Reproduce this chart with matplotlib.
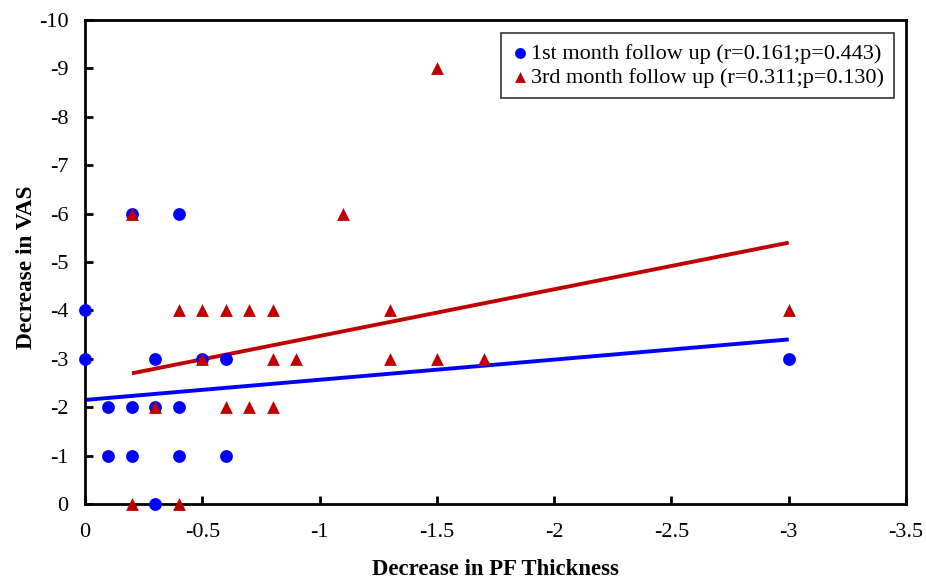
import matplotlib
matplotlib.use("Agg")
import matplotlib.pyplot as plt

# 1st month follow up
m1_x = [0, 0, -0.1, -0.1, -0.2, -0.2, -0.2, -0.3, -0.3, -0.3, -0.4, -0.4, -0.4, -0.5, -0.6, -0.6, -3.0]
m1_y = [-4, -3, -2, -1, -6, -2, -1, -3, -2, 0, -6, -2, -1, -3, -3, -1, -3]
# 3rd month follow up
m3_x = [-0.2, -0.2, -0.3, -0.4, -0.4, -0.5, -0.5, -0.6, -0.6, -0.7, -0.7, -0.8, -0.8, -0.8,
        -0.9, -1.1, -1.3, -1.3, -1.5, -1.5, -1.7, -3.0]
m3_y = [-6, 0, -2, -4, 0, -4, -3, -4, -2, -4, -2, -4, -3, -2,
        -3, -6, -4, -3, -9, -3, -3, -4]
# trend lines (endpoints)
m1_trend_x = [0, -3.0]
m1_trend_y = [-2.15, -3.4]
m3_trend_x = [-0.2, -3.0]
m3_trend_y = [-2.7, -5.4]

labels = ["1st month follow up (r=0.161;p=0.443)", "3rd month follow up (r=0.311;p=0.130)"]
x_ticks = [0, -0.5, -1, -1.5, -2, -2.5, -3, -3.5]
x_tick_labels = ["0", "-0.5", "-1", "-1.5", "-2", "-2.5", "-3", "-3.5"]
y_ticks = [0, -1, -2, -3, -4, -5, -6, -7, -8, -9, -10]
y_tick_labels = ["0", "-1", "-2", "-3", "-4", "-5", "-6", "-7", "-8", "-9", "-10"]

plt.rcParams['font.family'] = ['Liberation Serif', 'DejaVu Serif']

fig = plt.figure(figsize=(9.26, 5.79), dpi=100)
ax = fig.add_axes([85 / 926, 1 - 504 / 579, (906 - 85) / 926, (504 - 20) / 579])

blue = "#0000FF"
red = "#C00000"

ax.plot(m1_trend_x, m1_trend_y, color=blue, lw=2.8, zorder=2, solid_capstyle='butt')
ax.plot(m3_trend_x, m3_trend_y, color=red, lw=2.8, zorder=2, solid_capstyle='butt')
ax.scatter(m1_x, m1_y, s=85, marker='o', color=blue, zorder=3, label=labels[0], clip_on=False, linewidths=0)
ax.scatter(m3_x, m3_y, s=85, marker='^', color=red, zorder=4, label=labels[1], clip_on=False, linewidths=0)

ax.set_xlim(0, -3.5)
ax.set_ylim(0, -10)
ax.set_xticks(x_ticks)
ax.set_xticklabels(x_tick_labels)
ax.set_yticks(y_ticks)
ax.set_yticklabels(y_tick_labels)
ax.tick_params(direction='in', length=6, width=2, labelsize=16, colors='black')
ax.tick_params(axis='y', pad=12)
ax.tick_params(axis='x', pad=14)
for sp in ax.spines.values():
    sp.set_linewidth(2)
    sp.set_color('black')

ax.set_xlabel("Decrease in PF Thickness", fontsize=16.4, fontweight='bold', labelpad=12)
ax.set_ylabel("Decrease in VAS", fontsize=16.8, fontweight='bold')
ax.yaxis.set_label_coords(-0.058, 0.49)

leg = ax.legend(loc='upper right', bbox_to_anchor=(0.9855, 0.973), fontsize=16, frameon=True,
                fancybox=False, edgecolor='black', handletextpad=0.1, handlelength=0.8,
                borderpad=0.45, labelspacing=0.18, markerscale=0.85, borderaxespad=0)
leg.get_frame().set_linewidth(1.2)

fig.savefig("out.png", dpi=100)
